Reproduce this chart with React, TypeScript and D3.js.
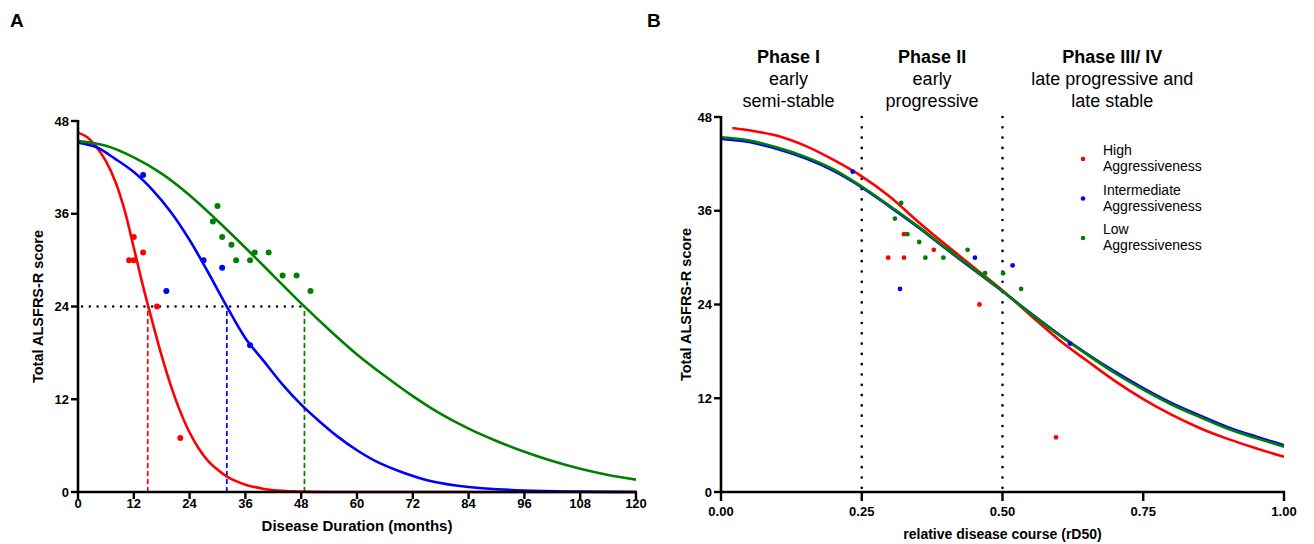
import React from 'react'
import * as d3 from 'd3'

// ---- panel A: disease duration (months) ----
const ticksAX = [0, 12, 24, 36, 48, 60, 72, 84, 96, 108, 120]
const ticksY = [0, 12, 24, 36, 48]

const highPtsA = [[11, 30], [12, 30], [12, 33], [14, 31], [17, 24], [22, 7]]
const interPtsA = [[14, 41], [19, 26], [27, 30], [31, 29], [37, 19]]
const lowPtsA = [[29, 35], [30, 37], [31, 33], [33, 32], [34, 30], [37, 30], [38, 31], [41, 31], [44, 28], [47, 28], [50, 26]]

const highCurveAX = [0, 2, 4, 6, 8, 10, 12, 14, 16, 18, 20, 22, 24, 26, 28, 30, 32, 34, 36, 40, 44, 48, 54, 60, 120]
const highCurveAY = [46.5, 45.9, 44.6, 42.8, 40.2, 36.5, 31.6, 26.6, 22.0, 17.6, 13.7, 10.4, 7.7, 5.6, 4.0, 2.9, 2.0, 1.4, 0.95, 0.4, 0.15, 0.05, 0, 0, 0]
const interCurveAX = [0, 4, 8, 12, 16, 20, 24, 28, 32, 36, 40, 44, 48, 52, 56, 60, 64, 70, 76, 84, 96, 108, 120]
const interCurveAY = [45.2, 44.6, 43.1, 41.4, 39.1, 36.2, 32.6, 28.4, 24.0, 19.9, 16.9, 13.9, 11.3, 9.1, 7.1, 5.4, 4.0, 2.5, 1.4, 0.65, 0.2, 0.05, 0]
const lowCurveAX = [0, 6, 12, 18, 24, 30, 36, 42, 48, 54, 60, 66, 72, 78, 84, 90, 96, 102, 108, 114, 120]
const lowCurveAY = [45.4, 44.8, 43.3, 41.2, 38.4, 35.1, 31.6, 28.0, 24.4, 21.0, 17.8, 15.0, 12.4, 10.1, 8.2, 6.6, 5.2, 4.0, 3.0, 2.2, 1.6]

const d50A = [15, 32, 48.7] // high, intermediate, low
const halfScore = 24

// ---- panel B: relative disease course ----
const ticksBX = [0, 0.25, 0.5, 0.75, 1]
const ticksBXLabels = ['0.00', '0.25', '0.50', '0.75', '1.00']
const phaseBounds = [0.25, 0.5]

const highPtsB = [[0.297, 30], [0.325, 30], [0.325, 33], [0.378, 31], [0.459, 24], [0.595, 7]]
const interPtsB = [[0.234, 41], [0.318, 26], [0.451, 30], [0.518, 29], [0.62, 19]]
const lowPtsB = [[0.309, 35], [0.32, 37], [0.331, 33], [0.352, 32], [0.363, 30], [0.395, 30], [0.405, 31], [0.438, 31], [0.469, 28], [0.501, 28], [0.533, 26]]

const curveBX = [0, 0.05, 0.1, 0.15, 0.2, 0.25, 0.3, 0.35, 0.4, 0.45, 0.5, 0.55, 0.6, 0.65, 0.7, 0.75, 0.8, 0.85, 0.9, 0.95, 1.0]
const highCurveBY = [46.6, 46.3, 45.6, 44.3, 42.5, 40.4, 37.8, 34.6, 31.6, 28.7, 25.8, 22.6, 19.5, 16.8, 14.2, 11.9, 9.9, 8.2, 6.8, 5.6, 4.5]
const interCurveBY = [45.2, 44.8, 43.9, 42.7, 41.1, 39.0, 36.5, 33.9, 31.1, 28.4, 25.7, 22.9, 20.2, 17.7, 15.4, 13.3, 11.4, 9.8, 8.3, 7.1, 6.0]
const lowCurveBY = [45.4, 45.0, 44.1, 42.9, 41.3, 39.1, 36.6, 34.0, 31.2, 28.5, 25.7, 22.8, 20.1, 17.6, 15.2, 13.1, 11.2, 9.6, 8.1, 6.9, 5.8]
const highStartB = 0.02

const groups = ['High', 'Intermediate', 'Low']
const colors = ['#ff0000', '#0000ff', '#008000']

const phaseTitles = ['Phase I', 'Phase II', 'Phase III/ IV']
const phaseLines = [['early', 'semi-stable'], ['early', 'progressive'], ['late progressive and', 'late stable']]
const phaseCenters = [0.12, 0.375, 0.695]

const FONT = '"Liberation Sans", Arial, sans-serif'

const xA = d3.scaleLinear().domain([0, 120]).range([78, 636])
const yA = d3.scaleLinear().domain([0, 48]).range([492, 121])
const xB = d3.scaleLinear().domain([0, 1]).range([721, 1284])
const yB = d3.scaleLinear().domain([0, 48]).range([492, 117])

const zip = (xs: number[], ys: number[]) => xs.map((x, i) => [x, ys[i]])

export default function App() {
  const lineA = d3.line<number[]>().x(d => xA(d[0])).y(d => Math.min(yA(0), yA(d[1]))).curve(d3.curveCatmullRom.alpha(0.5))
  const lineB = d3.line<number[]>().x(d => xB(d[0])).y(d => yB(d[1])).curve(d3.curveCatmullRom.alpha(0.5))

  const curvesA = [zip(highCurveAX, highCurveAY), zip(interCurveAX, interCurveAY), zip(lowCurveAX, lowCurveAY)]
  const highB = zip(curveBX, highCurveBY).filter(d => d[0] >= 0.05)
  highB.unshift([highStartB, highCurveBY[0]])
  const curvesB = [highB, zip(curveBX, interCurveBY), zip(curveBX, lowCurveBY)]
  const ptsA = [highPtsA, interPtsA, lowPtsA]
  const ptsB = [highPtsB, interPtsB, lowPtsB]

  return (
    <svg width={1314} height={544} style={{ position: 'absolute', left: 0, top: 0, background: '#fff' }} fontFamily={FONT}>
      {/* panel letters */}
      <text x={10} y={27} fontSize={19} fontWeight="bold">A</text>
      <text x={647} y={27} fontSize={19} fontWeight="bold">B</text>

      {/* ===== Panel A ===== */}
      <line x1={xA(0) + 4} x2={xA(d50A[2])} y1={yA(halfScore)} y2={yA(halfScore)}
        stroke="#000" strokeWidth={2.5} strokeLinecap="round" strokeDasharray="0 7.8" />
      {d50A.map((d, i) => (
        <line key={i} x1={xA(d)} x2={xA(d)} y1={yA(0)} y2={yA(halfScore)}
          stroke={colors[i]} strokeWidth={1.7} strokeDasharray="5 3" />
      ))}
      {curvesA.map((c, i) => (
        <path key={i} d={lineA(c) || ''} fill="none" stroke={colors[i]} strokeWidth={2.6} />
      ))}
      {ptsA.map((ps, i) => ps.map((p, j) => (
        <circle key={i + '-' + j} cx={xA(p[0])} cy={yA(p[1])} r={3} fill={colors[i]} />
      )))}

      {/* axes A */}
      <line x1={xA(0)} x2={xA(0)} y1={yA(48) - 1} y2={yA(0) + 1} stroke="#000" strokeWidth={2.6} />
      <line x1={xA(0) - 1} x2={xA(120) + 1} y1={yA(0)} y2={yA(0)} stroke="#000" strokeWidth={2.6} />
      {ticksY.map(t => (
        <g key={t}>
          <line x1={xA(0) - 7} x2={xA(0)} y1={yA(t)} y2={yA(t)} stroke="#000" strokeWidth={2.4} />
          <text x={xA(0) - 9} y={yA(t) + 4.5} fontSize={13} fontWeight="bold" textAnchor="end">{t}</text>
        </g>
      ))}
      {ticksAX.map(t => (
        <g key={t}>
          <line x1={xA(t)} x2={xA(t)} y1={yA(0)} y2={yA(0) + 7} stroke="#000" strokeWidth={2.4} />
          <text x={xA(t)} y={508} fontSize={13} fontWeight="bold" textAnchor="middle">{t}</text>
        </g>
      ))}
      <text x={xA(60)} y={531} fontSize={15} fontWeight="bold" textAnchor="middle">Disease Duration (months)</text>
      <text transform={`translate(43,${yA(24)}) rotate(-90)`} fontSize={14.5} fontWeight="bold" textAnchor="middle">Total ALSFRS-R score</text>

      {/* ===== Panel B ===== */}
      {phaseBounds.map(b => (
        <line key={b} x1={xB(b)} x2={xB(b)} y1={yB(48)} y2={yB(0)}
          stroke="#000" strokeWidth={2.7} strokeLinecap="round" strokeDasharray="0 10.3" />
      ))}
      {curvesB.map((c, i) => (
        <path key={i} d={lineB(c) || ''} fill="none" stroke={colors[i]} strokeWidth={2.6} />
      ))}
      {ptsB.map((ps, i) => ps.map((p, j) => (
        <circle key={i + '-' + j} cx={xB(p[0])} cy={yB(p[1])} r={2.4} fill={colors[i]} />
      )))}

      {/* phase headers */}
      {phaseTitles.map((t, i) => (
        <g key={t} textAnchor="middle" fontSize={18}>
          <text x={xB(phaseCenters[i])} y={63} fontWeight="bold">{t}</text>
          {phaseLines[i].map((l, k) => (
            <text key={k} x={xB(phaseCenters[i])} y={85 + k * 21.5}>{l}</text>
          ))}
        </g>
      ))}

      {/* legend */}
      {groups.map((g, i) => (
        <g key={g}>
          <circle cx={1083} cy={159 + i * 39.5} r={2.3} fill={colors[i]} />
          <text x={1103} y={155 + i * 39.5} fontSize={14}>{g}</text>
          <text x={1103} y={171 + i * 39.5} fontSize={14}>Aggressiveness</text>
        </g>
      ))}

      {/* axes B */}
      <line x1={xB(0)} x2={xB(0)} y1={yB(48) - 1} y2={yB(0) + 1} stroke="#000" strokeWidth={2.6} />
      <line x1={xB(0) - 1} x2={xB(1) + 1} y1={yB(0)} y2={yB(0)} stroke="#000" strokeWidth={2.6} />
      {ticksY.map(t => (
        <g key={t}>
          <line x1={xB(0) - 7} x2={xB(0)} y1={yB(t)} y2={yB(t)} stroke="#000" strokeWidth={2.4} />
          <text x={xB(0) - 9} y={yB(t) + 4.5} fontSize={13} fontWeight="bold" textAnchor="end">{t}</text>
        </g>
      ))}
      {ticksBX.map((t, i) => (
        <g key={t}>
          <line x1={xB(t)} x2={xB(t)} y1={yB(0)} y2={yB(0) + 9} stroke="#000" strokeWidth={2.4} />
          <text x={xB(t)} y={516} fontSize={13} fontWeight="bold" textAnchor="middle">{ticksBXLabels[i]}</text>
        </g>
      ))}
      <text x={xB(0.5)} y={539} fontSize={14} fontWeight="bold" textAnchor="middle">relative disease course (rD50)</text>
      <text transform={`translate(691,${yB(24)}) rotate(-90)`} fontSize={14.5} fontWeight="bold" textAnchor="middle">Total ALSFRS-R score</text>
    </svg>
  )
}
